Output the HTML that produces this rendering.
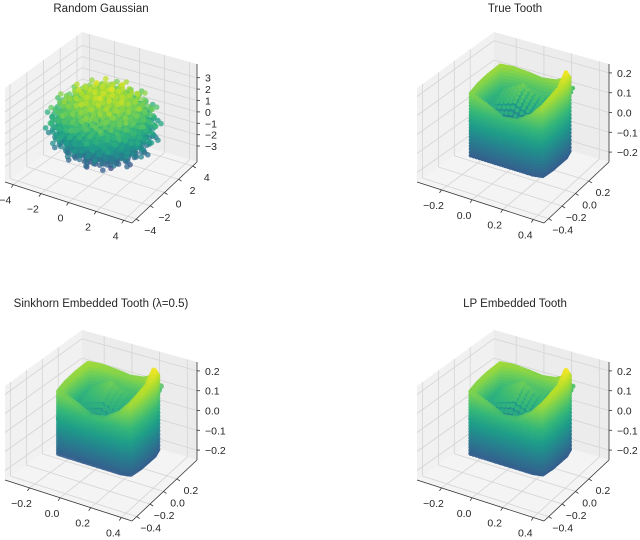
<!DOCTYPE html>
<html><head><meta charset="utf-8"><style>
html,body{margin:0;padding:0;background:#fff;}
svg{display:block;font-family:"Liberation Sans","DejaVu Sans",sans-serif;}
</style></head><body>
<svg id="fig" width="640" height="540" viewBox="0 0 640 540" xmlns="http://www.w3.org/2000/svg"></svg>
<script>
// ---- data ----
const panelTitles = ["Random Gaussian","True Tooth","Sinkhorn Embedded Tooth (\u03bb=0.5)","LP Embedded Tooth"];
const gaussXTicks = [-4,-2,0,2,4];
const gaussYTicks = [-4,-2,0,2,4];
const gaussZTicks = [-3,-2,-1,0,1,2,3];
const gaussShellRadii = [1.2,2.0,2.6,3.0,3.4,3.8];
const gaussShellCounts = [100,300,560,520,300,90];
const toothXTicks = [-0.2,0.0,0.2,0.4];
const toothYTicks = [-0.4,-0.2,0.0,0.2];
const toothZTicks = [-0.2,-0.1,0.0,0.1,0.2];
const toothLoopX = [-0.22,-0.1,0.0,0.1,0.2,0.26,0.27,0.27,0.27,0.25,0.15,0.05,-0.05,-0.15,-0.22,-0.23,-0.23];
const toothLoopY = [-0.05,-0.05,-0.05,-0.05,-0.05,-0.03,0.08,0.18,0.28,0.37,0.38,0.38,0.38,0.37,0.33,0.2,0.07];
const toothRimZ  = [0.12,0.08,0.04,0.05,0.1,0.15,0.17,0.18,0.23,0.17,0.13,0.12,0.13,0.14,0.15,0.14,0.13];
const toothBottomZ = -0.2;
const toothFloorZ = [
 [-0.02, 0.00, 0.01, 0.00,-0.01],
 [ 0.00, 0.07, 0.10, 0.06, 0.00],
 [ 0.00, 0.10, 0.15, 0.09, 0.03],
 [-0.01, 0.05, 0.09, 0.13, 0.07],
 [-0.02, 0.00, 0.02, 0.09, 0.12]];

const NS='http://www.w3.org/2000/svg';
const svg=document.getElementById('fig');
function mk(tag,attrs,parent){const e=document.createElementNS(NS,tag);for(const k in attrs)e.setAttribute(k,attrs[k]);(parent||svg).appendChild(e);return e;}

const VIR=[[68,1,84],[72,40,120],[62,74,137],[49,104,142],[38,130,142],[31,158,137],[53,183,121],[110,206,88],[181,222,43],[253,231,37]];
function viridis(t){t=Math.max(0,Math.min(1,t));const p=t*(VIR.length-1);const i=Math.min(VIR.length-2,Math.floor(p));const f=p-i;const a=VIR[i],b=VIR[i+1];return 'rgb('+[0,1,2].map(k=>Math.round(a[k]+(b[k]-a[k])*f)).join(',')+')';}

const L=[5,182],F=[132,223],R=[197,162],B=[82,128];
const HL=94,HF=100,HR=98,HB=96;

function makeAxes(ox,oy,xr,yr,zr){
  return function(x,y,z){
    const u=(x-xr[0])/(xr[1]-xr[0]),v=(y-yr[0])/(yr[1]-yr[0]),w=(z-zr[0])/(zr[1]-zr[0]);
    const a=(1-u)*(1-v),b=u*(1-v),c=u*v,d=(1-u)*v;
    const px=L[0]*a+F[0]*b+R[0]*c+B[0]*d;
    const py=L[1]*a+F[1]*b+R[1]*c+B[1]*d;
    const h=HL*a+HF*b+HR*c+HB*d;
    return [ox+px,oy+py-w*h,u-v+0.6*w];
  };
}

function drawBox(g,P,xr,yr,zr,xt,yt,zt,fmt){
  const poly=(pts,fill,name)=>{const e=mk('polygon',{points:pts.map(p=>p[0].toFixed(1)+','+p[1].toFixed(1)).join(' '),fill:fill,stroke:'none'},g);};
  poly([P(xr[0],yr[0],zr[0]),P(xr[0],yr[1],zr[0]),P(xr[0],yr[1],zr[1]),P(xr[0],yr[0],zr[1])],'#f1f1f1','left-pane');
  poly([P(xr[0],yr[1],zr[0]),P(xr[1],yr[1],zr[0]),P(xr[1],yr[1],zr[1]),P(xr[0],yr[1],zr[1])],'#ececec','back-pane');
  poly([P(xr[0],yr[0],zr[0]),P(xr[1],yr[0],zr[0]),P(xr[1],yr[1],zr[0]),P(xr[0],yr[1],zr[0])],'#f4f4f4','floor-pane');
  const line=(a,b,col,w,name)=>{const e=mk('line',{x1:a[0].toFixed(1),y1:a[1].toFixed(1),x2:b[0].toFixed(1),y2:b[1].toFixed(1),stroke:col,'stroke-width':w},g);};
  const gc='#d4d4d4';
  xt.forEach(x=>{line(P(x,yr[0],zr[0]),P(x,yr[1],zr[0]),gc,0.8,'grid-x');line(P(x,yr[1],zr[0]),P(x,yr[1],zr[1]),gc,0.8,'grid-x');});
  yt.forEach(y=>{line(P(xr[0],y,zr[0]),P(xr[1],y,zr[0]),gc,0.8,'grid-y');line(P(xr[0],y,zr[0]),P(xr[0],y,zr[1]),gc,0.8,'grid-y');});
  zt.forEach(z=>{line(P(xr[0],yr[0],z),P(xr[0],yr[1],z),gc,0.8,'grid-z');line(P(xr[0],yr[1],z),P(xr[1],yr[1],z),gc,0.8,'grid-z');});
  line(P(xr[0],yr[0],zr[0]),P(xr[1],yr[0],zr[0]),'#333',0.8,'x-axis-line');
  line(P(xr[1],yr[0],zr[0]),P(xr[1],yr[1],zr[0]),'#333',0.8,'y-axis-line');
  line(P(xr[1],yr[1],zr[0]),P(xr[1],yr[1],zr[1]),'#333',0.8,'z-axis-line');
  const txt=(p,s,anchor,name)=>{const e=mk('text',{x:p[0].toFixed(1),y:p[1].toFixed(1),'font-size':'10.5',fill:'#262626','text-anchor':anchor},g);e.textContent=s;};
  xt.forEach(x=>{const p=P(x,yr[0],zr[0]);line(p,[p[0]-2,p[1]+3],'#333',0.8,'x-tick');txt([p[0]-8,p[1]+19],fmt(x),'middle','x-tick-label');});
  yt.forEach(y=>{const p=P(xr[1],y,zr[0]);line(p,[p[0]+3,p[1]+2],'#333',0.8,'y-tick');txt([p[0]+14,p[1]+15],fmt(y),'middle','y-tick-label');});
  zt.forEach(z=>{const p=P(xr[1],yr[1],z);line(p,[p[0]+3,p[1]],'#333',0.8,'z-tick');txt([p[0]+8,p[1]+4],fmt(z),'start','z-tick-label');});
}

function fmtG(v){return String(v).replace('-','\u2212');}
function fmtT(v){return v.toFixed(1).replace('-','\u2212');}

function drawPoints(g,pts,r,op,name){
  pts.sort((a,b)=>a[2]-b[2]);
  pts.forEach(p=>{const c=mk('circle',{cx:p[0].toFixed(1),cy:p[1].toFixed(1),r:r,fill:viridis(p[3]),'fill-opacity':op},g);});
}

function gaussPanel(ox,oy){
  const g=mk('g',{});
  const xr=[-4.6,4.6],yr=[-4.6,4.6],zr=[-4.4,4.2];
  const proj=makeAxes(ox,oy,xr,yr,zr);
  drawBox(g,proj,xr,yr,zr,gaussXTicks,gaussYTicks,gaussZTicks,fmtG);
  const pts=[];const ga=Math.PI*(3-Math.sqrt(5));
  gaussShellRadii.forEach((rad,si)=>{const n=gaussShellCounts[si];for(let i=0;i<n;i++){const zz=1-2*(i+0.5)/n;const rr=Math.sqrt(1-zz*zz);const th=i*ga+si*1.3;const x=rad*rr*Math.cos(th),y=rad*rr*Math.sin(th),z=rad*zz*0.85;const p=proj(x,y,z);pts.push([p[0],p[1],p[2],0.22+0.72*(z+3)/6]);}});
  drawPoints(g,pts,2.8,0.75,'gaussian-point');
}

function toothPanel(ox,oy,r,op,name){
  const g=mk('g',{});
  const xr=[-0.36,0.47],yr=[-0.47,0.5],zr=[-0.25,0.245];
  const proj=makeAxes(ox,oy,xr,yr,zr);
  drawBox(g,proj,xr,yr,zr,toothXTicks,toothYTicks,toothZTicks,fmtT);
  const pts=[];const n=toothLoopX.length;const colz=z=>0.3+0.68*(z-toothBottomZ)/(0.23-toothBottomZ);
  for(let i=0;i<n;i++){const j=(i+1)%n;const segs=6;
    for(let s=0;s<segs;s++){const f=s/segs;const x=toothLoopX[i]+(toothLoopX[j]-toothLoopX[i])*f,y=toothLoopY[i]+(toothLoopY[j]-toothLoopY[i])*f,zt=toothRimZ[i]+(toothRimZ[j]-toothRimZ[i])*f;
      const levels=20;for(let k=0;k<=levels;k++){const z=toothBottomZ+(zt-toothBottomZ)*k/levels;const p=proj(x,y,z);pts.push([p[0],p[1],p[2]+(k==levels?0.05:0),colz(z)]);}}}
  const gx=[-0.22,0.27],gy=[-0.05,0.38];const N=16;
  for(let a=0;a<=N;a++)for(let b=0;b<=N;b++){const fx=a/N,fy=b/N;const x=gx[0]+(gx[1]-gx[0])*fx,y=gy[0]+(gy[1]-gy[0])*fy;
    const ix=Math.min(3,Math.floor(fx*4)),iy=Math.min(3,Math.floor(fy*4));const tx=fx*4-ix,ty=fy*4-iy;
    const z=toothFloorZ[iy][ix]*(1-tx)*(1-ty)+toothFloorZ[iy][ix+1]*tx*(1-ty)+toothFloorZ[iy+1][ix+1]*tx*ty+toothFloorZ[iy+1][ix]*(1-tx)*ty;
    const p=proj(x,y,z);pts.push([p[0],p[1],p[2]-0.3,colz(z)-0.08]);}
  drawPoints(g,pts,r,op,'tooth-point');
}

function title(x,y,s){const t=mk('text',{x:x,y:y,'font-size':'11.5',fill:'#262626','text-anchor':'middle'});t.textContent=s;}

gaussPanel(0,0);
toothPanel(412,0,2.2,1,'true-tooth-panel');
toothPanel(0,298,3,0.85,'sinkhorn-tooth-panel');
toothPanel(412,298,2.6,0.95,'lp-tooth-panel');
title(101,12,panelTitles[0]);
title(515,12,panelTitles[1]);
title(101,307,panelTitles[2]);
title(515,307,panelTitles[3]);
</script>
</body></html>
